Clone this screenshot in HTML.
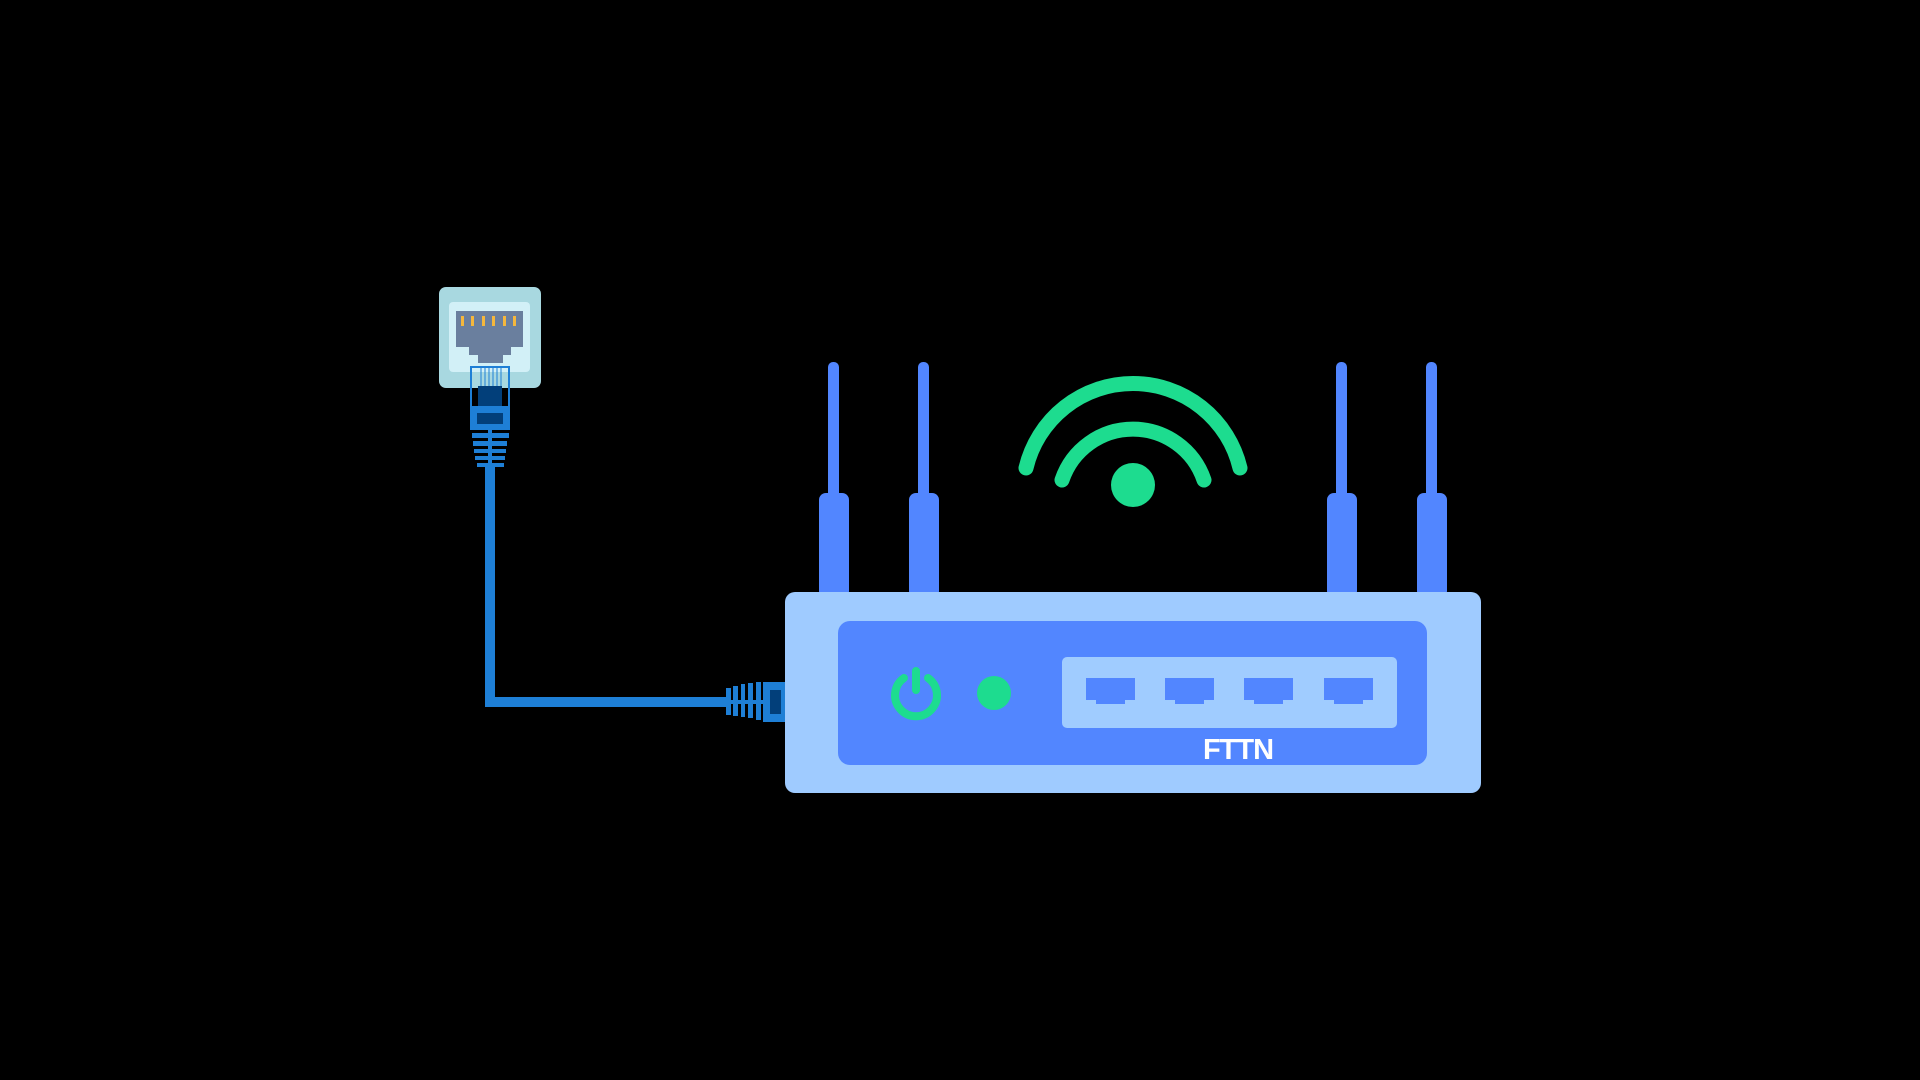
<!DOCTYPE html>
<html><head><meta charset="utf-8"><style>
html,body{margin:0;padding:0;background:#000;width:1920px;height:1080px;overflow:hidden}
</style></head><body>
<svg width="1920" height="1080" viewBox="0 0 1920 1080" xmlns="http://www.w3.org/2000/svg">
<rect width="1920" height="1080" fill="#000"/>
<polyline points="490,466 490,702 730,702" fill="none" stroke="#1e7fd6" stroke-width="10"/>
<rect x="439" y="287" width="102" height="101" rx="7" fill="#a8d8e0"/>
<rect x="449" y="302" width="81" height="70" rx="4" fill="#d2f0f7"/>
<path d="M456,311 H523 V347 H511 V355 H503 V363 H478 V355 H469 V347 H456 Z" fill="#6a7f9e"/>
<g fill="#f5b83d">
<rect x="461" y="316" width="3" height="10"/><rect x="471" y="316" width="3" height="10"/><rect x="482" y="316" width="3" height="10"/><rect x="492" y="316" width="3" height="10"/><rect x="503" y="316" width="3" height="10"/><rect x="513" y="316" width="3" height="10"/>
</g>
<rect x="478" y="386" width="24" height="20" fill="#023f7a"/>
<g stroke="#1e7fd6" stroke-width="1"><line x1="481" y1="368" x2="481" y2="386"/><line x1="485" y1="368" x2="485" y2="386"/><line x1="489" y1="368" x2="489" y2="386"/><line x1="493" y1="368" x2="493" y2="386"/><line x1="497" y1="368" x2="497" y2="386"/><line x1="501" y1="368" x2="501" y2="386"/></g>
<rect x="471" y="367" width="38" height="40" fill="none" stroke="#1e7fd6" stroke-width="2"/>
<rect x="470" y="407" width="40" height="23" fill="#1e7fd6"/>
<rect x="477" y="413" width="26" height="11" fill="#023f7a"/>
<rect x="488" y="428" width="4" height="40" fill="#1e7fd6"/>
<g fill="#1e7fd6"><rect x="472" y="433" width="37" height="5"/><rect x="473" y="441" width="34" height="5"/><rect x="474" y="449" width="32" height="4"/><rect x="475" y="456" width="30" height="4"/><rect x="477" y="463" width="27" height="4"/></g>
<rect x="724" y="700" width="40" height="4" fill="#1e7fd6"/>
<g fill="#1e7fd6"><rect x="726" y="688" width="5" height="27"/><rect x="733" y="686" width="5" height="30"/><rect x="741" y="684" width="4" height="33"/><rect x="748" y="683" width="5" height="35"/><rect x="756" y="682" width="5" height="38"/></g>
<rect x="763" y="682" width="23" height="40" fill="#1e7fd6"/>
<rect x="770" y="690" width="11" height="24" fill="#023f7a"/>
<g fill="#5286ff">
<rect x="828" y="362" width="11" height="140" rx="5"/><rect x="819" y="493" width="30" height="105" rx="7"/>
<rect x="918" y="362" width="11" height="140" rx="5"/><rect x="909" y="493" width="30" height="105" rx="7"/>
<rect x="1336" y="362" width="11" height="140" rx="5"/><rect x="1327" y="493" width="30" height="105" rx="7"/>
<rect x="1426" y="362" width="11" height="140" rx="5"/><rect x="1417" y="493" width="30" height="105" rx="7"/>
</g>
<rect x="785" y="592" width="696" height="201" rx="10" fill="#9fcbff"/>
<rect x="838" y="621" width="589" height="144" rx="12" fill="#5286ff"/>
<path d="M904,678 A21,21 0 1 0 928,678" fill="none" stroke="#1ddc8f" stroke-width="8" stroke-linecap="round"/>
<line x1="916" y1="671" x2="916" y2="690" stroke="#1ddc8f" stroke-width="8" stroke-linecap="round"/>
<circle cx="994" cy="693" r="17" fill="#1ddc8f"/>
<rect x="1062" y="657" width="335" height="71" rx="5" fill="#a0ccff"/>
<g fill="#5286ff">
<path d="M1086,678 h49 v22 h-10 v4 h-29 v-4 h-10 z"/>
<path d="M1165,678 h49 v22 h-10 v4 h-29 v-4 h-10 z"/>
<path d="M1244,678 h49 v22 h-10 v4 h-29 v-4 h-10 z"/>
<path d="M1324,678 h49 v22 h-10 v4 h-29 v-4 h-10 z"/>
</g>
<text x="1238" y="759" text-anchor="middle" fill="#fff" font-family="Liberation Sans, sans-serif" font-weight="bold" font-size="29" letter-spacing="-1">FTTN</text>
<circle cx="1133" cy="485" r="22" fill="#1ddc8f"/>
<path d="M1026,468 A110,110 0 0 1 1240,468" fill="none" stroke="#1ddc8f" stroke-width="15" stroke-linecap="round"/>
<path d="M1062,480 A75,75 0 0 1 1204,480" fill="none" stroke="#1ddc8f" stroke-width="15" stroke-linecap="round"/>
</svg>
</body></html>
